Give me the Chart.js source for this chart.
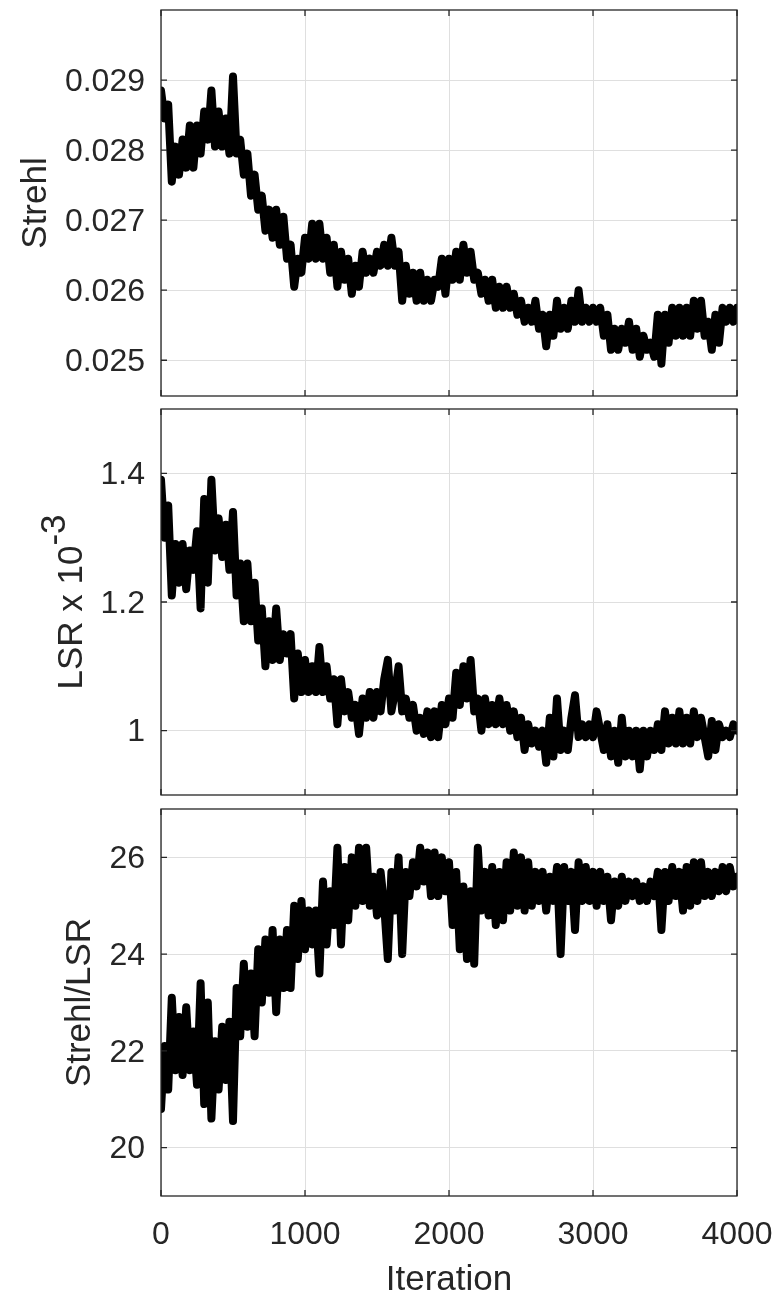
<!DOCTYPE html>
<html>
<head>
<meta charset="utf-8">
<script src="https://cdn.jsdelivr.net/npm/chart.js@4.4.1/dist/chart.umd.min.js"></script>
<style>
  html, body { margin: 0; padding: 0; background: #fff; }
  #figure { position: relative; width: 779px; height: 1301px; }
  #figure canvas { position: absolute; left: 0; }
</style>
</head>
<body>
<div id="figure">
  <canvas id="strehl-chart" width="779" height="404" style="top:0px"></canvas>
  <canvas id="lsr-chart" width="779" height="400" style="top:404px"></canvas>
  <canvas id="ratio-chart" width="779" height="497" style="top:804px"></canvas>
</div>
<script>
// Traces every 25 iterations (0 .. 4000)
const step = 25;

// Strehl
const strehl = [
  0.02885, 0.02845, 0.02865, 0.02755, 0.02805, 0.02765, 0.02815, 0.02775, 0.02835, 0.02775,
  0.02835, 0.02795, 0.02855, 0.02815, 0.02885, 0.02805, 0.02855, 0.02805, 0.02845, 0.02795,
  0.02905, 0.02795, 0.02815, 0.02765, 0.02795, 0.02735, 0.02765, 0.02715, 0.02735, 0.02685,
  0.02715, 0.02675, 0.02715, 0.02665, 0.02705, 0.02645, 0.02665, 0.02605, 0.02645, 0.02625,
  0.02675, 0.02645, 0.02695, 0.02645, 0.02695, 0.02645, 0.02675, 0.02625, 0.02665, 0.02605,
  0.02655, 0.02615, 0.02645, 0.02595, 0.02635, 0.02605, 0.02655, 0.02625, 0.02645, 0.02625,
  0.02655, 0.02635, 0.02665, 0.02635, 0.02675, 0.02635, 0.02655, 0.02585, 0.02635, 0.02595,
  0.02625, 0.02585, 0.02625, 0.02585, 0.02615, 0.02585, 0.02615, 0.02605, 0.02645, 0.02595,
  0.02645, 0.02615, 0.02655, 0.02615, 0.02665, 0.02625, 0.02655, 0.02615, 0.02625, 0.02595,
  0.02615, 0.02585, 0.02615, 0.02575, 0.02605, 0.02575, 0.02605, 0.02575, 0.02595, 0.02565,
  0.02585, 0.02555, 0.02575, 0.02555, 0.02585, 0.02545, 0.02565, 0.02520, 0.02565, 0.02535,
  0.02585, 0.02545, 0.02575, 0.02545, 0.02585, 0.02555, 0.02600, 0.02555, 0.02575, 0.02555,
  0.02575, 0.02555, 0.02575, 0.02535, 0.02565, 0.02515, 0.02545, 0.02515, 0.02545, 0.02525,
  0.02555, 0.02515, 0.02545, 0.02505, 0.02535, 0.02515, 0.02525, 0.02505, 0.02565, 0.02495,
  0.02565, 0.02525, 0.02575, 0.02535, 0.02575, 0.02535, 0.02575, 0.02535, 0.02585, 0.02545,
  0.02585, 0.02535, 0.02555, 0.02515, 0.02565, 0.02525, 0.02575, 0.02555, 0.02575, 0.02555,
  0.02575
];

// LSR (x 10^-3)
const lsr = [
  1.39, 1.30, 1.35, 1.21, 1.29, 1.23, 1.29, 1.22, 1.28, 1.25,
  1.31, 1.19, 1.36, 1.23, 1.39, 1.28, 1.33, 1.27, 1.32, 1.25,
  1.34, 1.21, 1.26, 1.17, 1.26, 1.17, 1.23, 1.14, 1.19, 1.10,
  1.17, 1.11, 1.19, 1.11, 1.15, 1.12, 1.15, 1.05, 1.12, 1.06,
  1.11, 1.06, 1.10, 1.06, 1.13, 1.06, 1.10, 1.05, 1.08, 1.01,
  1.08, 1.03, 1.06, 1.02, 1.04, 0.995, 1.05, 1.02, 1.06, 1.02,
  1.06, 1.03, 1.08, 1.11, 1.03, 1.06, 1.10, 1.03, 1.05, 1.02,
  1.04, 1.00, 1.02, 0.995, 1.03, 0.99, 1.03, 0.99, 1.04, 1.01,
  1.05, 1.02, 1.09, 1.04, 1.10, 1.05, 1.11, 1.03, 1.05, 1.00,
  1.05, 1.01, 1.04, 1.01, 1.05, 1.01, 1.04, 1.00, 1.03, 0.99,
  1.02, 0.97, 1.01, 0.98, 1.00, 0.975, 1.00, 0.95, 1.02, 0.96,
  1.05, 0.97, 1.00, 0.97, 1.02, 1.055, 0.99, 1.01, 0.99, 1.01,
  0.99, 1.03, 1.00, 0.97, 1.01, 0.96, 1.00, 0.95, 1.02, 0.96,
  1.00, 0.96, 1.00, 0.94, 1.00, 0.96, 1.00, 0.97, 1.01, 0.97,
  1.03, 0.98, 1.02, 0.98, 1.03, 0.98, 1.02, 0.98, 1.03, 0.99,
  1.02, 0.99, 0.96, 1.015, 0.97, 1.01, 0.99, 1.00, 0.99, 1.01,
  1.00
];

// Strehl/LSR
const ratio = [
  20.8, 22.1, 21.2, 23.1, 21.6, 22.7, 21.5, 22.9, 21.6, 22.4,
  21.3, 23.4, 20.9, 23.0, 20.6, 22.2, 21.2, 22.5, 21.4, 22.6,
  20.55, 23.3, 22.3, 23.8, 22.5, 23.6, 22.3, 24.1, 23.0, 24.3,
  23.2, 24.5, 22.8, 24.3, 23.3, 24.5, 23.3, 25.0, 23.9, 25.1,
  24.1, 24.9, 24.2, 24.9, 23.6, 25.5, 24.2, 25.3, 24.6, 26.2,
  24.2, 25.8, 24.7, 26.0, 25.0, 26.2, 25.1, 26.2, 25.0, 25.6,
  24.8, 25.7, 25.0, 23.9, 25.7, 24.9, 26.0, 24.0, 25.7, 25.2,
  25.9, 25.4, 26.2, 25.5, 26.1, 25.2, 26.1, 25.2, 26.0, 25.3,
  25.9, 24.6, 25.7, 24.1, 25.4, 23.9, 25.3, 23.8, 26.2, 24.9,
  25.7, 24.8, 25.8, 24.6, 25.7, 24.7, 25.9, 24.9, 26.1, 25.0,
  26.0, 24.9, 25.9, 25.0, 25.7, 25.1, 25.7, 24.9, 25.6, 25.1,
  25.8, 24.0, 25.8, 25.1, 25.7, 24.5, 25.9, 25.1, 25.8, 25.1,
  25.7, 25.0, 25.7, 25.1, 25.6, 24.7, 25.5, 25.0, 25.6, 25.1,
  25.5, 25.2, 25.5, 25.1, 25.4, 25.1, 25.5, 25.2, 25.7, 24.5,
  25.7, 25.1, 25.8, 25.2, 25.7, 24.9, 25.8, 25.0, 25.9, 25.1,
  25.9, 25.2, 25.7, 25.2, 25.7, 25.3, 25.8, 25.3, 25.8, 25.4,
  25.6
];

// Tick labels
const iterTicks = [0, 1000, 2000, 3000, 4000];
const strehlTicks = [0.025, 0.026, 0.027, 0.028, 0.029];
const lsrTicks = [1, 1.2, 1.4];
const ratioTicks = [20, 22, 24, 26];

const iterations = strehl.map((_, i) => i * step);

const fontFamily = '"Liberation Sans", Arial, Helvetica, sans-serif';
const axisColor = '#262626';
const gridColor = '#dfdfdf';
const tickFont = 32;
const titleFont = 35;

// Box around the axes, inward ticks on all four sides, axis titles
const matlabAxes = {
  id: 'matlabAxes',
  afterDraw(chart, args, opts) {
    const { ctx, chartArea: a, scales } = chart;
    const xs = scales.x, ys = scales.y;
    const len = 6;
    ctx.save();
    ctx.strokeStyle = axisColor;
    ctx.lineWidth = 1.3;
    ctx.strokeRect(a.left, a.top, a.right - a.left, a.bottom - a.top);
    ctx.beginPath();
    xs.ticks.forEach(t => {
      const px = xs.getPixelForValue(t.value);
      ctx.moveTo(px, a.bottom); ctx.lineTo(px, a.bottom - len);
      ctx.moveTo(px, a.top); ctx.lineTo(px, a.top + len);
    });
    ys.ticks.forEach(t => {
      const py = ys.getPixelForValue(t.value);
      ctx.moveTo(a.left, py); ctx.lineTo(a.left + len, py);
      ctx.moveTo(a.right, py); ctx.lineTo(a.right - len, py);
    });
    ctx.stroke();

    ctx.fillStyle = axisColor;
    if (opts.xTitle) {
      ctx.font = titleFont + 'px ' + fontFamily;
      ctx.textAlign = 'center';
      ctx.textBaseline = 'alphabetic';
      ctx.fillText(opts.xTitle, (a.left + a.right) / 2, a.bottom + 94);
    }

    // y title sits just left of the widest tick label
    ctx.font = tickFont + 'px ' + fontFamily;
    const maxW = Math.max(...ys.ticks.map(t => ctx.measureText(t.label).width));
    const baseX = a.left - 16 - maxW - 19;
    ctx.font = titleFont + 'px ' + fontFamily;
    const w1 = ctx.measureText(opts.yTitle).width;
    const w2 = opts.ySup ? ctx.measureText(opts.ySup).width : 0;
    ctx.translate(baseX, (a.top + a.bottom) / 2);
    ctx.rotate(-Math.PI / 2);
    ctx.textAlign = 'left';
    ctx.textBaseline = 'alphabetic';
    ctx.fillText(opts.yTitle, -(w1 + w2) / 2, 0);
    if (opts.ySup) ctx.fillText(opts.ySup, -(w1 + w2) / 2 + w1, -17);
    ctx.restore();
  }
};

function makeChart(id, values, yMin, yMax, yTicks, fmt, padding, showX, titles) {
  return new Chart(document.getElementById(id), {
    type: 'line',
    data: {
      datasets: [{
        data: values.map((v, i) => ({ x: iterations[i], y: v })),
        borderColor: '#000000',
        borderWidth: 8,
        pointRadius: 0,
        borderJoinStyle: 'round',
        borderCapStyle: 'round',
        tension: 0
      }]
    },
    options: {
      responsive: false,
      animation: false,
      events: [],
      layout: { padding },
      plugins: {
        legend: { display: false },
        tooltip: { enabled: false },
        matlabAxes: titles
      },
      scales: {
        x: {
          type: 'linear',
          min: 0,
          max: 4000,
          afterBuildTicks: s => { s.ticks = iterTicks.map(v => ({ value: v })); },
          afterFit: s => {
            s.height = showX ? 105 : 0;
            s.paddingLeft = 0;
            s.paddingRight = 0;
          },
          grid: { color: gridColor, drawTicks: false },
          border: { display: false },
          ticks: {
            display: showX,
            autoSkip: false,
            maxRotation: 0,
            padding: 20,
            color: axisColor,
            font: { family: fontFamily, size: tickFont },
            callback: v => String(v)
          }
        },
        y: {
          min: yMin,
          max: yMax,
          afterBuildTicks: s => { s.ticks = yTicks.map(v => ({ value: v })); },
          afterFit: s => {
            s.width = 161;
            s.paddingTop = 0;
            s.paddingBottom = 0;
          },
          grid: { color: gridColor, drawTicks: false },
          border: { display: false },
          ticks: {
            autoSkip: false,
            padding: 16,
            labelOffset: 2,
            color: axisColor,
            font: { family: fontFamily, size: tickFont },
            callback: fmt
          }
        }
      }
    },
    plugins: [matlabAxes]
  });
}

makeChart('strehl-chart', strehl, 0.02449, 0.030, strehlTicks, v => v.toFixed(3),
  { left: 0, right: 42, top: 10, bottom: 8 }, false, { yTitle: 'Strehl' });

makeChart('lsr-chart', lsr, 0.9, 1.5, lsrTicks, v => String(+v.toFixed(1)),
  { left: 0, right: 42, top: 5, bottom: 9 }, false, { yTitle: 'LSR x 10', ySup: '-3' });

makeChart('ratio-chart', ratio, 19, 27, ratioTicks, v => String(v),
  { left: 0, right: 42, top: 5, bottom: 0 }, true, { yTitle: 'Strehl/LSR', xTitle: 'Iteration' });
</script>
</body>
</html>
